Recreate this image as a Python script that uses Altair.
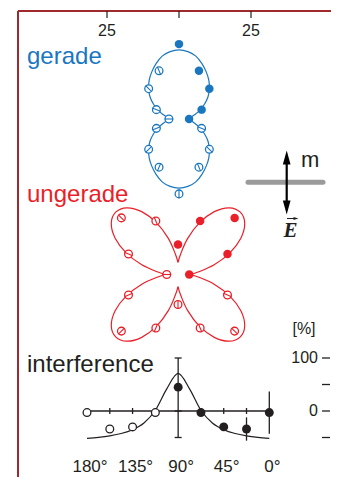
import math
import altair as alt
import pandas as pd

# ---------------- data ----------------
# polar radius axis: units per label
radius_tick_vals = [-25, 0, 25]
radius_tick_labels = ["25", "", "25"]

# model curves sampled every 7.5 deg from the vertical (0..90 deg), radius units
curve_step = 7.5
gerade_curve_r = [24.0, 23.6, 22.6, 20.8, 18.9, 17.0, 14.9, 12.7, 10.2, 7.8, 5.6, 4.0, 3.3]
ungerade_curve_r = [4.2, 7.3, 13.0, 19.4, 25.2, 29.2, 30.6, 29.2, 25.2, 19.4, 13.0, 7.3, 4.2]

# measured points (upper-right quadrant, filled); the rest are mirrored (open)
meas_angles = [0, 22.5, 45, 67.5, 90]
gerade_r = [26.0, 18.1, 14.9, 8.5, 3.5]
ungerade_r = [10.4, 20.1, 27.8, 18.6, 3.9]
err_half = 1.5  # radial bar through open symbols, radius units

# interference panel
interf_angles = [0, 22.5, 45, 67.5, 90]
interf_vals = [-3, -34, -30, -3, 45]
interf_err = [40, 22, 0, 0, 0]
interf_curve_angles = [0, 11.25, 22.5, 33.75, 45, 56.25, 67.5, 78.75, 90,
                       101.25, 112.5, 123.75, 135, 146.25, 157.5, 168.75, 180]
interf_curve_vals = [-51.5, -49.6, -46.8, -42.5, -35.3, -22.5, 1.4, 41.8, 71.0,
                     41.8, 1.4, -22.5, -35.3, -42.5, -46.8, -49.6, -51.5]
angle_minor_ticks = [157.5, 135, 112.5, 67.5, 45, 22.5]
angle_label_vals = [180, 135, 90, 45, 0]
angle_labels = ["180°", "135°", "90°", "45°", "0°"]
pct_ticks = [100, 50, 0, -50]
pct_label_vals = [100, 0]
pct_labels = ["100", "0"]

# ---------------- layout ----------------
K = 72 / 25.0           # px per radius unit
G_CX, G_CY = 179.0, 119.0
U_CX, U_CY = 178.0, 274.5
I_X0, I_DX = 269.3, 182.3 / 180.0
I_Y0, I_DY = 411.0, 0.53
BLUE = "#1a77bf"
RED = "#ea1f29"
INK = "#231f20"
FRAME = "#a0292e"
FONT = "Liberation Sans"


def polar(cx, cy, theta, r):
    t = math.radians(theta)
    return cx + r * K * math.sin(t), cy - r * K * math.cos(t)


def fold(theta):
    return abs(((theta + 90) % 180) - 90)


def curve_df(cx, cy, qr, segments):
    rows = []
    for si, (a0, a1) in enumerate(segments):
        n = int(round((a1 - a0) / curve_step))
        for i in range(n + 1):
            th = a0 + i * curve_step
            r = qr[int(round(fold(th) / curve_step))]
            x, y = polar(cx, cy, th, r)
            rows.append({"x": x, "y": y, "seg": si, "ord": i})
    return pd.DataFrame(rows)


def marker_dfs(cx, cy, radii):
    filled, hollow = [], []
    for a, r in zip(meas_angles, radii):
        x, y = polar(cx, cy, a, r)
        filled.append({"x": x, "y": y})
        mirrors = []
        if a != 0:
            mirrors.append(-a)
        if a != 90:
            mirrors.append(180 - a)
        if a not in (0, 90):
            mirrors.append(180 + a)
        for m in mirrors:
            x, y = polar(cx, cy, m, r)
            x1, y1 = polar(cx, cy, m, r - err_half)
            x2, y2 = polar(cx, cy, m, r + err_half)
            hollow.append({"x": x, "y": y, "x1": x1, "y1": y1, "x2": x2, "y2": y2})
    return pd.DataFrame(filled), pd.DataFrame(hollow)


X = lambda f="x": alt.X(f"{f}:Q", scale=alt.Scale(domain=[8, 331], nice=False, zero=False), axis=None)
Y = lambda f="y": alt.Y(f"{f}:Q", scale=alt.Scale(domain=[8, 477], nice=False, zero=False, reverse=True), axis=None)

layers = []

# frame
frame = pd.DataFrame([
    {"x": 18, "y": 11, "x2": 18, "y2": 477},
    {"x": 18, "y": 11, "x2": 332.5, "y2": 11},
    {"x": 332.5, "y": 11, "x2": 332.5, "y2": 477},
])
layers.append(alt.Chart(frame).mark_rule(color=FRAME, strokeWidth=2).encode(
    x=X(), y=Y(), x2="x2:Q", y2="y2:Q"))

# top radius axis
rt = pd.DataFrame({"x": [G_CX + v * K for v in radius_tick_vals], "lab": radius_tick_labels})
rt["y"] = 11
rt["y2"] = 18
rt["ly"] = 31
layers.append(alt.Chart(rt).mark_rule(color=INK, strokeWidth=1.2).encode(x=X(), y=Y(), y2="y2:Q"))
layers.append(alt.Chart(rt).mark_text(font=FONT, fontSize=16, color=INK, baseline="middle").encode(
    x=X(), y=Y("ly"), text="lab:N"))

# polar panels
for cx, cy, qr, radii, col, segs in [
    (G_CX, G_CY, gerade_curve_r, gerade_r, BLUE, [(-90, 90), (90, 270)]),
    (U_CX, U_CY, ungerade_curve_r, ungerade_r, RED, [(0, 90), (90, 180), (180, 270), (270, 360)]),
]:
    cdf = curve_df(cx, cy, qr, segs)
    layers.append(alt.Chart(cdf).mark_line(color=col, strokeWidth=1.2, interpolate="cardinal").encode(
        x=X(), y=Y(), detail="seg:N", order="ord:Q"))
    fdf, hdf = marker_dfs(cx, cy, radii)
    layers.append(alt.Chart(hdf).mark_point(shape="circle", filled=True, fill="white", stroke=col,
                                            strokeWidth=1.3, size=60, opacity=1).encode(x=X(), y=Y()))
    layers.append(alt.Chart(hdf).mark_rule(color=col, strokeWidth=1.1).encode(
        x=X("x1"), y=Y("y1"), x2="x2:Q", y2="y2:Q"))
    layers.append(alt.Chart(fdf).mark_circle(color=col, size=72, opacity=1).encode(x=X(), y=Y()))

# labels
labels = pd.DataFrame([
    {"x": 27, "y": 64.3, "t": "gerade", "c": BLUE},
    {"x": 27, "y": 201.7, "t": "ungerade", "c": RED},
    {"x": 27, "y": 371.7, "t": "interference", "c": INK},
])
layers.append(alt.Chart(labels).mark_text(font=FONT, fontSize=24, align="left", baseline="alphabetic").encode(
    x=X(), y=Y(), text="t:N", color=alt.Color("c:N", scale=None)))

# polarisation sketch: plane, m / E arrow
layers.append(alt.Chart(pd.DataFrame({"x": [248], "x2": [323], "y": [182.3]})).mark_rule(
    color="#9b9b9b", strokeWidth=5, strokeCap="round").encode(x=X(), x2="x2:Q", y=Y()))
layers.append(alt.Chart(pd.DataFrame({"x": [286.7], "y": [158], "y2": [207]})).mark_rule(
    color="black", strokeWidth=2.2).encode(x=X(), y=Y(), y2="y2:Q"))
heads = pd.DataFrame({"x": [286.7], "y": [157.5]})
layers.append(alt.Chart(heads).mark_point(shape="M-0.55,1L0,-1L0.55,1Z", filled=True, color="black",
                                          size=196, opacity=1).encode(x=X(), y=Y()))
heads2 = pd.DataFrame({"x": [286.7], "y": [207.5]})
layers.append(alt.Chart(heads2).mark_point(shape="M-0.55,-1L0,1L0.55,-1Z", filled=True, color="black",
                                           size=196, opacity=1).encode(x=X(), y=Y()))
layers.append(alt.Chart(pd.DataFrame({"x": [301], "y": [167], "t": ["m"]})).mark_text(
    font=FONT, fontSize=22, align="left", baseline="alphabetic", color=INK).encode(x=X(), y=Y(), text="t:N"))
layers.append(alt.Chart(pd.DataFrame({"x": [290.5], "y": [236.7], "t": ["E"]})).mark_text(
    font="Liberation Serif", fontSize=21, fontStyle="italic", fontWeight="bold", baseline="alphabetic",
    color=INK).encode(x=X(), y=Y(), text="t:N"))
layers.append(alt.Chart(pd.DataFrame({"x": [287], "x2": [296], "y": [218.5]})).mark_rule(
    color=INK, strokeWidth=1).encode(x=X(), x2="x2:Q", y=Y()))
layers.append(alt.Chart(pd.DataFrame({"x": [296], "y": [218.5]})).mark_point(
    shape="M-1,-0.6L1,0L-1,0.6Z", filled=True, color=INK, size=25, opacity=1).encode(x=X(), y=Y()))

# interference panel
ix = lambda a: I_X0 - a * I_DX
iy = lambda v: I_Y0 - v * I_DY

axis_rows = [{"x": ix(180), "y": iy(0), "x2": ix(0), "y2": iy(0)},
             {"x": ix(90), "y": iy(100), "x2": ix(90), "y2": iy(-50)}]
for v in (100, -50):
    axis_rows.append({"x": ix(90) - 3.5, "y": iy(v), "x2": ix(90) + 3.5, "y2": iy(v)})
axis_rows.append({"x": ix(90) - 3.5, "y": iy(0), "x2": ix(90) + 3.5, "y2": iy(0)})
for a in angle_minor_ticks:
    axis_rows.append({"x": ix(a), "y": iy(0) - 3, "x2": ix(a), "y2": iy(0) + 3})
for a, v, e in zip(interf_angles, interf_vals, interf_err):
    if e:
        axis_rows.append({"x": ix(a), "y": iy(v + e), "x2": ix(a), "y2": iy(v - e)})
# right percent axis ticks
for p in pct_ticks:
    axis_rows.append({"x": 322, "y": iy(p), "x2": 330, "y2": iy(p)})
adf = pd.DataFrame(axis_rows)
layers.append(alt.Chart(adf).mark_rule(color=INK, strokeWidth=1.3).encode(
    x=X(), y=Y(), x2="x2:Q", y2="y2:Q"))

icurve = pd.DataFrame({"x": [ix(a) for a in interf_curve_angles], "y": [iy(v) for v in interf_curve_vals]})
layers.append(alt.Chart(icurve).mark_line(color=INK, strokeWidth=1.2, interpolate="monotone").encode(
    x=X(), y=Y()))

ih = pd.DataFrame({"x": [ix(180 - a) for a in interf_angles[:-1]], "y": [iy(v) for v in interf_vals[:-1]]})
layers.append(alt.Chart(ih).mark_point(shape="circle", filled=True, fill="white", stroke=INK,
                                       strokeWidth=1.3, size=60, opacity=1).encode(x=X(), y=Y()))
ifl = pd.DataFrame({"x": [ix(a) for a in interf_angles], "y": [iy(v) for v in interf_vals]})
layers.append(alt.Chart(ifl).mark_circle(color=INK, size=80, opacity=1).encode(x=X(), y=Y()))

# angle labels
al = pd.DataFrame({"x": [ix(a) + 3 for a in angle_label_vals], "y": 467, "t": angle_labels})
layers.append(alt.Chart(al).mark_text(font=FONT, fontSize=17, color=INK, baseline="middle").encode(
    x=X(), y=Y(), text="t:N"))
# percent labels
pl = pd.DataFrame({"x": 318, "y": [iy(p) for p in pct_label_vals], "t": pct_labels})
layers.append(alt.Chart(pl).mark_text(font=FONT, fontSize=16, color=INK, align="right", baseline="middle").encode(
    x=X(), y=Y(), text="t:N"))
layers.append(alt.Chart(pd.DataFrame({"x": [304], "y": [329], "t": ["[%]"]})).mark_text(
    font=FONT, fontSize=16, color=INK, baseline="middle").encode(x=X(), y=Y(), text="t:N"))

chart = alt.layer(*layers).properties(
    width=323, height=469, padding=0, autosize="none", background="white"
).configure_view(stroke=None)

chart.save("out.html", embed_options={"renderer": "svg", "actions": False})
